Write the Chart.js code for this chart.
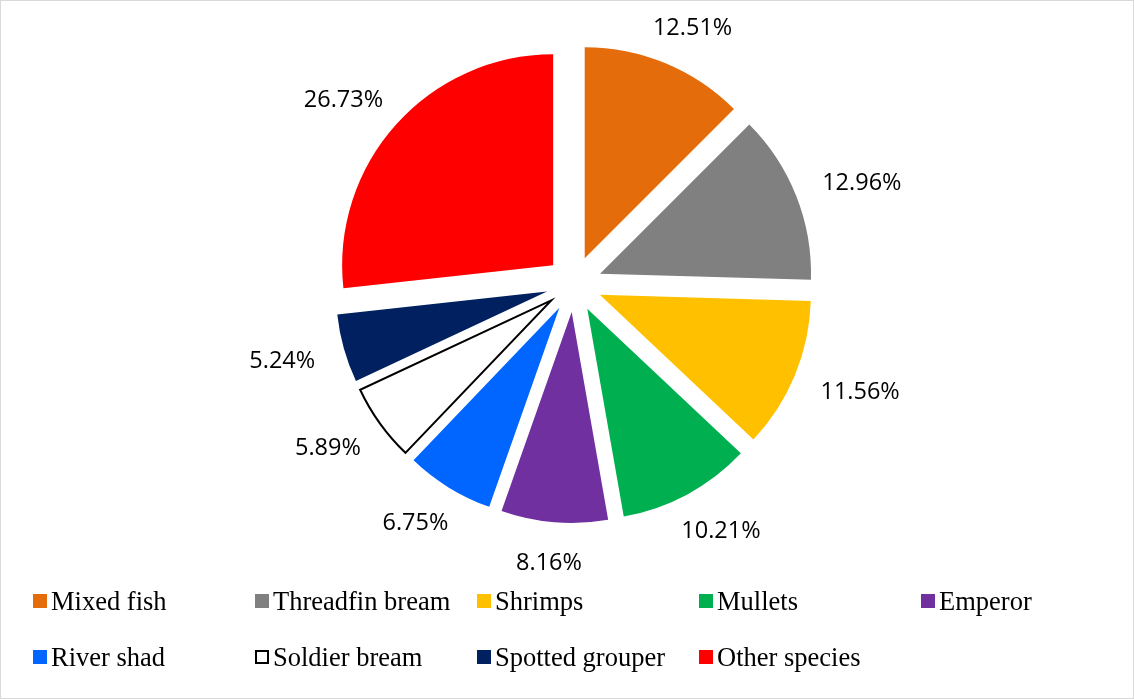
<!DOCTYPE html>
<html>
<head>
<meta charset="utf-8">
<title>Species share</title>
<script src="https://cdn.jsdelivr.net/npm/chart.js@4.4.1/dist/chart.umd.min.js"></script>
<style>
  html, body { margin: 0; padding: 0; background: #fff; }
  #wrap { position: relative; width: 1134px; height: 699px; overflow: hidden; }
  #frame { position: absolute; left: 0; top: 0; width: 1134px; height: 699px; box-sizing: border-box; border: 1px solid #d9d9d9; pointer-events: none; }
  canvas { position: absolute; left: 0; top: 0; }
  #legend {
    position: absolute; left: 33px; top: 573px;
    display: grid;
    grid-template-columns: repeat(5, 222px);
    grid-auto-rows: 56px;
    font-family: "Liberation Serif", "Times New Roman", serif;
    font-size: 26.5px; line-height: 30px; color: #000;
  }
  .item { display: flex; align-items: center; white-space: nowrap; }
  .box { width: 14px; height: 14px; margin-right: 4px; box-sizing: border-box; flex: none; }
</style>
</head>
<body>
<div id="wrap">
  <canvas id="speciesChart" width="1134" height="699"></canvas>
  <div id="legend"></div>
  <div id="frame"></div>
</div>
<script>
// catch composition, % of total
const species = ['Mixed fish', 'Threadfin bream', 'Shrimps', 'Mullets', 'Emperor',
                 'River shad', 'Soldier bream', 'Spotted grouper', 'Other species'];
const shares = [12.51, 12.96, 11.56, 10.21, 8.16, 6.75, 5.89, 5.24, 26.73];

const sliceColors = ['#E46C0A', '#808080', '#FFC000', '#00B050', '#7030A0',
                     '#0066FF', '#FFFFFF', '#002060', '#FF0000'];
const sliceBorderWidths = [0, 0, 0, 0, 0, 0, 2, 0, 0];

// pushes every slice out along its middle angle by the same distance
const explodeSlices = {
    id: 'explodeSlices',
    afterDatasetsUpdate(chart, args, opts) {
        chart.getDatasetMeta(0).data.forEach(arc => {
            const mid = (arc.startAngle + arc.endAngle) / 2;
            arc.x += Math.cos(mid) * opts.distance;
            arc.y += Math.sin(mid) * opts.distance;
        });
    }
};

// percentage text outside each slice; the text box sits just past the rim,
// pushed outward by half its size in the slice direction
const sliceLabels = {
    id: 'sliceLabels',
    afterDatasetsDraw(chart, args, opts) {
        const ctx = chart.ctx;
        const values = chart.data.datasets[0].data;
        ctx.save();
        ctx.font = opts.font;
        ctx.fillStyle = opts.color;
        ctx.textAlign = 'center';
        ctx.textBaseline = 'alphabetic';
        const h = ctx.measureText('0').actualBoundingBoxAscent;
        chart.getDatasetMeta(0).data.forEach((arc, i) => {
            const text = values[i].toFixed(2) + '%';
            const w = ctx.measureText(text).width;
            const mid = (arc.startAngle + arc.endAngle) / 2;
            const ux = Math.cos(mid), uy = Math.sin(mid);
            const d = arc.outerRadius + opts.gap;
            const x = arc.x + ux * d + ux * w / 2;
            const y = arc.y + uy * d + uy * h / 2;
            ctx.fillText(text, x, y + h / 2);
        });
        ctx.restore();
    }
};

const chart = new Chart(document.getElementById('speciesChart'), {
    type: 'pie',
    data: {
        labels: species,
        datasets: [{
            data: shares,
            backgroundColor: sliceColors,
            borderColor: '#000000',
            borderWidth: sliceBorderWidths,
            borderJoinStyle: 'miter',
            radius: 211
        }]
    },
    options: {
        responsive: false,
        animation: false,
        events: [],
        layout: { padding: { left: 14, right: 0, top: 0, bottom: 131 } },
        plugins: {
            legend: { display: false },
            tooltip: { enabled: false },
            explodeSlices: { distance: 28 },
            sliceLabels: { font: '23.5px "Open Sans"', color: '#000', gap: 31 }
        }
    },
    plugins: [explodeSlices, sliceLabels]
});

// legend built from the chart's own labels and colours
const legendEl = document.getElementById('legend');
chart.data.labels.forEach((name, i) => {
    const item = document.createElement('div');
    item.className = 'item';
    const box = document.createElement('span');
    box.className = 'box';
    box.style.background = sliceColors[i];
    if (sliceBorderWidths[i] > 0) box.style.border = '2px solid #000';
    const txt = document.createElement('span');
    txt.textContent = name;
    item.appendChild(box);
    item.appendChild(txt);
    legendEl.appendChild(item);
});
</script>
</body>
</html>
